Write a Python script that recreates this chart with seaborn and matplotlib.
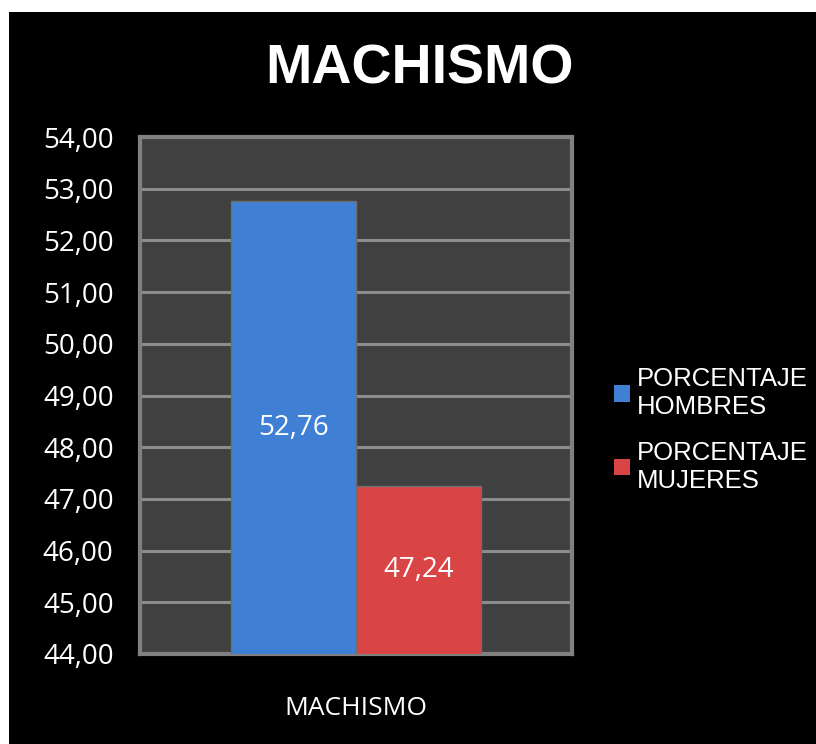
import pandas as pd
import matplotlib
matplotlib.use("Agg")
import matplotlib.pyplot as plt
import seaborn as sns
from matplotlib.patches import Rectangle

# ----------------------
# Data
# ----------------------
categories = ["MACHISMO"]
series = ["PORCENTAJE\nHOMBRES", "PORCENTAJE\nMUJERES"]
values = [52.76, 47.24]
value_labels = ["52,76", "47,24"]
y_ticks = [44, 45, 46, 47, 48, 49, 50, 51, 52, 53, 54]
colors = ["#3f80d4", "#d94444"]

df = pd.DataFrame({
    "Categoria": categories * len(series),
    "Serie": series,
    "Porcentaje": values,
})

# ----------------------
# Plot
# ----------------------
sns.set_theme(style="dark")
plt.rcParams["font.family"] = ["Open Sans", "DejaVu Sans"]

fig = plt.figure(figsize=(8.16, 7.44), dpi=100)
fig.patch.set_facecolor("white")
fig.add_artist(Rectangle((9 / 816, 0), 1, 1 - 12 / 744, transform=fig.transFigure,
                         facecolor="black", edgecolor="none", zorder=-1))

ax = fig.add_axes([140 / 816, (744 - 654) / 744, 432 / 816, 517 / 744])
ax.set_facecolor("#404040")

sns.barplot(data=df, x="Categoria", y="Porcentaje", hue="Serie", palette=colors,
            saturation=1, width=0.58, edgecolor="#6e6e6e", linewidth=1, ax=ax, zorder=3)

ax.set_ylim(44, 54)
ax.set_xlim(-0.5, 0.5)
ax.set_yticks(y_ticks)
ax.set_yticklabels([f"{t:.2f}".replace(".", ",") for t in y_ticks])
ax.yaxis.grid(True, color="#8c8c8c", linewidth=2.2, zorder=1)
ax.xaxis.grid(False)
ax.set_axisbelow(True)
ax.tick_params(axis="y", length=0, pad=19, labelsize=20, labelcolor="white")
ax.tick_params(axis="x", length=0, pad=30, labelsize=19, labelcolor="white")
ax.set_xlabel("")
ax.set_ylabel("")
for sp in ax.spines.values():
    sp.set_visible(True)
    sp.set_color("#808080")
    sp.set_linewidth(3)

# value labels in the middle of the visible bar
for p, lab in zip(ax.patches[:len(values)], value_labels):
    xc = p.get_x() + p.get_width() / 2
    yc = (44 + p.get_height()) / 2
    ax.text(xc, yc, lab, ha="center", va="center", color="white", fontsize=20, zorder=5)

ax.legend_.remove()
handles = [Rectangle((0, 0), 1, 1, facecolor=c, edgecolor="none") for c in colors]
fig.legend(handles, series, loc="center left", bbox_to_anchor=(591 / 816, 1 - 430 / 744),
           frameon=False, handlelength=0.6, handleheight=0.6, handletextpad=0.3,
           labelspacing=0.85, prop={"family": "Liberation Sans", "size": 18.5},
           labelcolor="white")

fig.text(420 / 816, 1 - 70 / 744, "MACHISMO", ha="center", va="center", color="white",
         fontsize=40, fontweight="bold", family="Liberation Sans")

plt.savefig("out.png", dpi=100, facecolor=fig.get_facecolor())
